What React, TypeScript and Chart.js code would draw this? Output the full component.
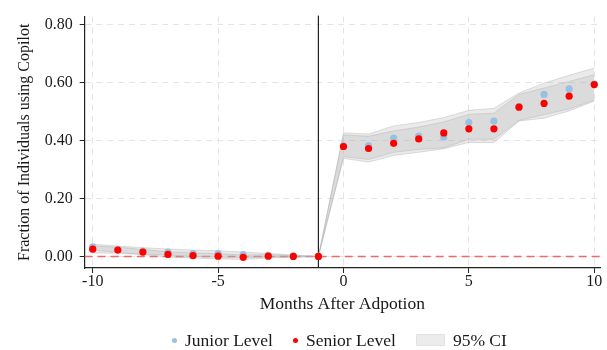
import React, { useEffect, useRef } from "react";
import { Chart, registerables } from "chart.js";

Chart.register(...registerables);

// ---- data ----
const months = [-10, -9, -8, -7, -6, -5, -4, -3, -2, -1, 0, 1, 2, 3, 4, 5, 6, 7, 8, 9, 10];
const juniorLevel = [0.033, 0.024, 0.018, 0.015, 0.01, 0.01, 0.006, 0.004, 0.002, 0.0, 0.382, 0.383, 0.409, 0.416, 0.413, 0.463, 0.468, 0.518, 0.56, 0.579, 0.596];
const seniorLevel = [0.025, 0.022, 0.015, 0.007, 0.003, 0.001, -0.003, 0.001, 0.0, 0.0, 0.38, 0.373, 0.391, 0.406, 0.427, 0.441, 0.441, 0.516, 0.529, 0.554, 0.594];
const juniorUpper = [0.042, 0.036, 0.03, 0.026, 0.022, 0.02, 0.015, 0.01, 0.005, 0.0, 0.427, 0.423, 0.451, 0.463, 0.48, 0.505, 0.512, 0.565, 0.599, 0.626, 0.651];
const juniorLower = [0.022, 0.014, 0.008, 0.005, 0.0, -0.002, -0.004, -0.002, -0.002, 0.0, 0.345, 0.335, 0.36, 0.37, 0.375, 0.405, 0.405, 0.47, 0.49, 0.51, 0.54];
const seniorUpper = [0.036, 0.032, 0.024, 0.016, 0.012, 0.01, 0.005, 0.006, 0.003, 0.0, 0.42, 0.415, 0.434, 0.447, 0.465, 0.491, 0.495, 0.56, 0.582, 0.605, 0.628];
const seniorLower = [0.012, 0.011, 0.006, -0.002, -0.006, -0.008, -0.011, -0.005, -0.003, 0.0, 0.339, 0.326, 0.349, 0.36, 0.372, 0.394, 0.394, 0.468, 0.478, 0.503, 0.537];
const yTickValues = [0, 0.2, 0.4, 0.6, 0.8];
const xTickValues = [-10, -5, 0, 5, 10];
const EVENT_MONTH = -1;
const BASELINE = 0;

const legendLabels = ["Junior Level", "Senior Level", "95% CI"];
const xTitle = "Months After Adpotion";
const yTitle = "Fraction of Individuals using Copilot";

// ---- style ----
const FONT = '"Liberation Serif", "Times New Roman", serif';
const JUNIOR = "#97c2e1";
const SENIOR = "#ff0000";
const BAND_FILL = "rgba(180,180,180,0.28)";
const BAND_EDGE = "rgba(165,165,165,0.45)";
const GRID = "#e4e4e4";
const TEXT = "#1a1a1a";

const pts = (ys: number[]) => months.map((m, i) => ({ x: m, y: ys[i] }));

const refLines = {
  id: "refLines",
  beforeDatasetsDraw(chart: any) {
    const { ctx, chartArea, scales } = chart;
    const y0 = scales.y.getPixelForValue(BASELINE);
    const xv = scales.x.getPixelForValue(EVENT_MONTH);
    ctx.save();
    ctx.strokeStyle = "rgba(240,90,90,0.9)";
    ctx.lineWidth = 1.6;
    ctx.setLineDash([8, 5]);
    ctx.beginPath();
    ctx.moveTo(chartArea.left, y0);
    ctx.lineTo(chartArea.right, y0);
    ctx.stroke();
    ctx.setLineDash([]);
    ctx.strokeStyle = "#222";
    ctx.lineWidth = 1.2;
    ctx.beginPath();
    ctx.moveTo(xv, chartArea.top - 1);
    ctx.lineTo(xv, chartArea.bottom);
    ctx.stroke();
    ctx.restore();
  },
};

export default function App() {
  const ref = useRef<HTMLCanvasElement | null>(null);

  useEffect(() => {
    if (!ref.current) return;
    const band = (data: number[], fill: any, order: number) => ({
      type: "line" as const,
      data: pts(data),
      borderColor: BAND_EDGE,
      borderWidth: 0.8,
      backgroundColor: BAND_FILL,
      pointRadius: 0,
      fill,
      tension: 0,
      order,
    });
    const chart = new Chart(ref.current, {
      type: "scatter",
      data: {
        datasets: [
          band(juniorUpper, false, 5),
          band(juniorLower, "-1", 4),
          band(seniorUpper, false, 3),
          band(seniorLower, "-1", 2),
          {
            type: "scatter",
            label: legendLabels[0],
            data: pts(juniorLevel),
            backgroundColor: JUNIOR,
            borderWidth: 0,
            pointRadius: 3.6,
            order: 1,
          },
          {
            type: "scatter",
            label: legendLabels[1],
            data: pts(seniorLevel),
            backgroundColor: SENIOR,
            borderWidth: 0,
            pointRadius: 3.6,
            order: 0,
          },
        ] as any,
      },
      options: {
        animation: false,
        responsive: false,
        devicePixelRatio: 1,
        layout: { padding: { left: 0, right: 7, top: 15, bottom: 32 } },
        plugins: { legend: { display: false }, tooltip: { enabled: false } },
        scales: {
          x: {
            type: "linear",
            min: -10.32,
            max: 10.23,
            afterBuildTicks: (s: any) => {
              s.ticks = xTickValues.map((v) => ({ value: v }));
            },
            afterFit: (s: any) => {
              s.height = 50;
            },
            ticks: {
              color: TEXT,
              font: { family: FONT, size: 16, lineHeight: 1 },
              padding: 1,
              maxRotation: 0,
              callback: (v: any) => String(v),
            },
            grid: { color: GRID, tickColor: "#222", tickLength: 5, lineWidth: 1 },
            border: { color: "#222", width: 1.2, dash: [6, 5] },
            title: {
              display: true,
              text: xTitle,
              color: TEXT,
              font: { family: FONT, size: 17.5, lineHeight: 1.2 },
              padding: { top: 0, bottom: 3 },
            },
          },
          y: {
            min: -0.04,
            max: 0.829,
            afterBuildTicks: (s: any) => {
              s.ticks = yTickValues.map((v) => ({ value: v }));
            },
            afterFit: (s: any) => {
              s.width = 84.7;
            },
            ticks: {
              color: TEXT,
              font: { family: FONT, size: 16 },
              padding: 7,
              callback: (v: any) => Number(v).toFixed(2),
            },
            grid: { color: GRID, tickColor: "#222", tickLength: 5, lineWidth: 1 },
            border: { color: "#222", width: 1.2, dash: [6, 5] },
            title: {
              display: true,
              text: yTitle,
              color: TEXT,
              font: { family: FONT, size: 16, lineHeight: 1.2 },
              padding: { top: 15, bottom: 0 },
            },
          },
        },
      } as any,
      plugins: [refLines],
    });
    return () => chart.destroy();
  }, []);

  const dot = (c: string) => (
    <span style={{ width: 5, height: 5, borderRadius: "50%", background: c, marginRight: 8 }} />
  );

  return (
    <div style={{ position: "absolute", left: 0, top: 0, width: 607, height: 350, background: "#fff" }}>
      <canvas ref={ref} width={607} height={350} style={{ display: "block" }} />
      <div
        style={{
          position: "absolute",
          left: 172,
          top: 330,
          display: "flex",
          alignItems: "center",
          fontFamily: FONT,
          fontSize: 17.5,
          lineHeight: "20px",
          color: TEXT,
          whiteSpace: "nowrap",
        }}
      >
        {dot(JUNIOR)}
        <span style={{ marginRight: 20 }}>{legendLabels[0]}</span>
        {dot(SENIOR)}
        <span style={{ marginRight: 20 }}>{legendLabels[1]}</span>
        <span
          style={{
            width: 29,
            height: 12,
            background: "#ececec",
            border: "1px solid #e2e2e2",
            boxSizing: "border-box",
            marginRight: 8,
          }}
        />
        <span>{legendLabels[2]}</span>
      </div>
    </div>
  );
}
